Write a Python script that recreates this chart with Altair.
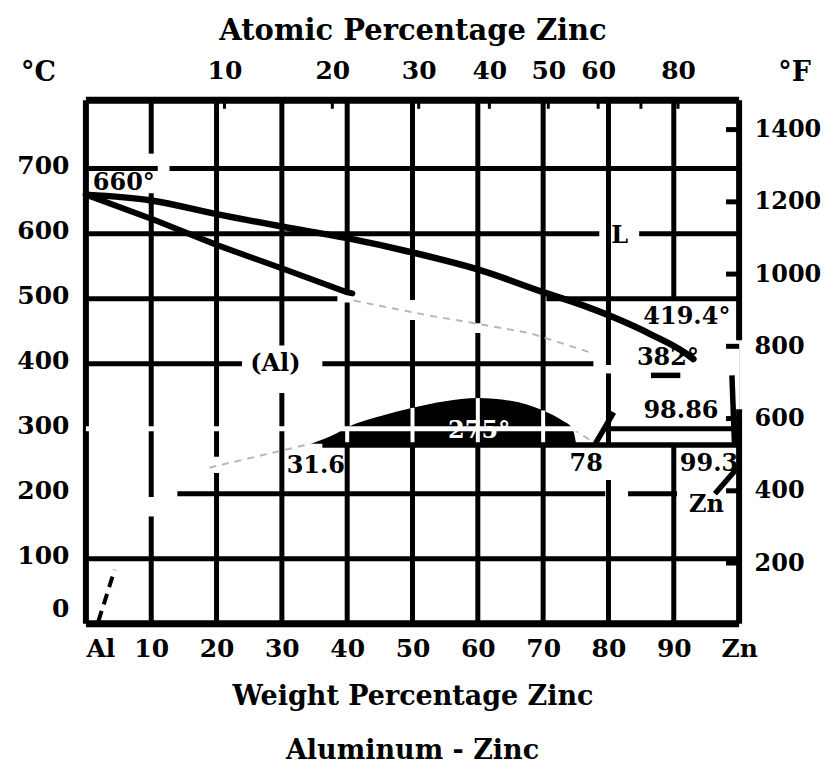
import altair as alt
import pandas as pd

# ---------------- data (x = weight % Zn, y = temperature in deg C) ----------------
T_MAX = 805

liq_wt = [0, 10, 20, 30, 40, 50, 60, 70, 76.0, 80.6, 86.7, 91.8, 93.0]
liq_t = [660, 651, 630, 611, 593, 571, 545, 510, 490, 472, 444, 416, 407]

sol_wt = [0, 10.5, 20.2, 30.7, 39.9, 40.8]
sol_t = [660, 621, 582, 544, 510, 508]

faint_seg = ["sol", "sol", "sol", "sol", "sol", "solv", "solv", "leg", "leg"]
faint_wt = [41.0, 52.0, 63.0, 68.0, 77.0, 18.9, 34.5, 74.5, 78.0]
faint_t = [497, 475, 456, 447, 418, 240, 277, 300, 277]

dome_wt = [34.5, 38.4, 40, 45, 50, 55, 60, 65, 70, 73, 74.5, 75]
dome_t = [277, 293, 302, 319, 332, 342, 347, 343, 328, 312, 300, 280]
dome_base = 277

short_seg = ["alsolv", "alsolv", "znsolv", "znsolv", "pointer", "pointer",
             "eutectic", "eutectic", "eutectoid", "eutectoid"]
short_wt = [78, 80.8, 99.3, 98.9, 96.3, 99.6, 86.5, 91.0, 36.2, 100]
short_t = [277, 325, 275, 382, 200, 238, 382, 382, 275, 275]

corner_wt = [1.9, 4.4]
corner_t = [3.5, 83]

# grid segments (as printed, with the gaps of the original)
vgrid_wt = [10, 10, 10, 20, 20, 30, 30, 40, 40, 50, 50, 60, 60, 70, 80, 80, 80, 90, 90]
vgrid_from = [0, 195, 723, 0, 257, 0, 428, 0, 508, 0, 498, 0, 462, 0, 0, 277, 398, 0, 500]
vgrid_to = [165, 662, 805, 232, 805, 355, 805, 494, 805, 467, 805, 447, 805, 805, 221, 385, 805, 277, 805]

hgrid_t = [100, 200, 200, 300, 400, 400, 500, 500, 600, 600, 700, 700]
hgrid_from = [0, 14, 83, 80, 0, 36.2, 0, 70.5, 0, 84.7, 0, 12.8]
hgrid_to = [100, 79.5, 90.5, 100, 23.9, 77.7, 38.5, 100, 78.6, 100, 11.0, 100]

frame_v_wt = [0, 100, 100]
frame_v_from = [0, 0, 436]
frame_v_to = [805, 330, 805]
frame_h_t = [0, 805]

white_h_t = [300]
white_h_from = [0]
white_h_to = [78]
white_v_wt = [40, 50, 60, 70]

lab_text = ["660°", "L", "(Al)", "419.4°", "382°", "98.86", "31.6", "78", "99.3", "Zn"]
lab_wt = [5.8, 81.7, 29.0, 92.0, 89.1, 91.1, 35.2, 76.6, 95.4, 95.0]
lab_t = [678, 596, 400, 472, 409, 327, 243, 246, 246, 183]
wlab_text = ["275°"]
wlab_wt = [60.2]
wlab_t = [296]

bottom_ticks = [0, 10, 20, 30, 40, 50, 60, 70, 80, 90, 100]
left_ticks = [0, 100, 200, 300, 400, 500, 600, 700]
f_ticks = [200, 400, 600, 800, 1000, 1200, 1400]
atomic_ticks = [10, 20, 30, 40, 50, 60, 70, 80]
atomic_labels = [10, 20, 30, 40, 50, 60, 80]

M_ZN, M_AL = 65.38, 26.98


def at_to_wt(a):
    return 100 * a * M_ZN / (a * M_ZN + (100 - a) * M_AL)


# ---------------- scales / helpers ----------------
XS = alt.Scale(domain=[0, 100], nice=False, zero=False)
YS = alt.Scale(domain=[0, T_MAX], nice=False, zero=False)
FS = alt.Scale(domain=[32, T_MAX * 1.8 + 32], nice=False, zero=False)
FONT = "DejaVu Serif"


def X(f):
    return alt.X(f"{f}:Q", scale=XS, axis=None)


def Y(f):
    return alt.Y(f"{f}:Q", scale=YS, axis=None)


vgrid = pd.DataFrame({"w": vgrid_wt, "t0": vgrid_from, "t1": vgrid_to})
hgrid = pd.DataFrame({"t": hgrid_t, "w0": hgrid_from, "w1": hgrid_to})
framev = pd.DataFrame({"w": frame_v_wt, "t0": frame_v_from, "t1": frame_v_to})
frameh = pd.DataFrame({"t": frame_h_t, "w0": [0, 0], "w1": [100, 100]})

l_vgrid = alt.Chart(vgrid).mark_rule(color="black", strokeWidth=5).encode(
    x=X("w"), y=Y("t0"), y2="t1:Q")
l_hgrid = alt.Chart(hgrid).mark_rule(color="black", strokeWidth=5).encode(
    y=Y("t"), x=X("w0"), x2="w1:Q")
l_framev = alt.Chart(framev).mark_rule(color="black", strokeWidth=6).encode(
    x=X("w"), y=Y("t0"), y2="t1:Q")
l_frameh = alt.Chart(frameh).mark_rule(color="black", strokeWidth=7).encode(
    y=Y("t"), x=X("w0"), x2="w1:Q")

faint = pd.DataFrame({"seg": faint_seg, "w": faint_wt, "t": faint_t})
l_faint = alt.Chart(faint).mark_line(color="#b8b8b8", strokeWidth=2, strokeDash=[7, 6]).encode(
    x=X("w"), y=Y("t"), detail="seg:N")

dome = pd.DataFrame({"w": dome_wt, "t": dome_t, "b": [dome_base] * len(dome_wt)})
l_dome = alt.Chart(dome).mark_area(color="black", interpolate="monotone").encode(
    x=X("w"), y=Y("t"), y2="b:Q")

whv = dome[dome["w"].isin(white_v_wt)]
l_white_v = alt.Chart(whv).mark_rule(color="white", strokeWidth=4).encode(
    x=X("w"), y=Y("b"), y2="t:Q")
whh = pd.DataFrame({"t": white_h_t, "w0": white_h_from, "w1": white_h_to})
l_white_h = alt.Chart(whh).mark_rule(color="white", strokeWidth=5).encode(
    y=Y("t"), x=X("w0"), x2="w1:Q")

liq = pd.DataFrame({"w": liq_wt, "t": liq_t})
l_liq = alt.Chart(liq).mark_line(color="black", strokeWidth=6.5, interpolate="monotone",
                                 strokeCap="round").encode(x=X("w"), y=Y("t"))
sol = pd.DataFrame({"w": sol_wt, "t": sol_t})
l_sol = alt.Chart(sol).mark_line(color="black", strokeWidth=6, strokeCap="round").encode(
    x=X("w"), y=Y("t"))
short = pd.DataFrame({"seg": short_seg, "w": short_wt, "t": short_t})
l_short = alt.Chart(short).mark_line(color="black", strokeWidth=5.5).encode(
    x=X("w"), y=Y("t"), detail="seg:N")
corner = pd.DataFrame({"w": corner_wt, "t": corner_t})
l_corner = alt.Chart(corner).mark_line(color="black", strokeWidth=4, strokeDash=[11, 7]).encode(
    x=X("w"), y=Y("t"))

labs = pd.DataFrame({"label": lab_text, "w": lab_wt, "t": lab_t})
l_labs = alt.Chart(labs).mark_text(font=FONT, fontWeight="bold", fontSize=24, color="black").encode(
    x=X("w"), y=Y("t"), text="label:N")
wlabs = pd.DataFrame({"label": wlab_text, "w": wlab_wt, "t": wlab_t})
l_wlabs = alt.Chart(wlabs).mark_text(font=FONT, fontWeight="bold", fontSize=24, color="white").encode(
    x=X("w"), y=Y("t"), text="label:N")

# ticks drawn inward on top and right frame
top_t = pd.DataFrame({"w": [at_to_wt(a) for a in atomic_ticks]})
l_top_ticks = alt.Chart(top_t).mark_rule(color="black", strokeWidth=3).encode(
    x=X("w"), y=alt.Y(datum=T_MAX, scale=YS, axis=None), y2=alt.datum(T_MAX - 13))
right_t = pd.DataFrame({"F": f_ticks})
l_right_ticks = alt.Chart(right_t).mark_rule(color="black", strokeWidth=5).encode(
    y=alt.Y("F:Q", scale=FS, axis=None), x=alt.X(datum=98.0, scale=XS, axis=None), x2=alt.datum(100))

axis_common = dict(ticks=False, domain=False, grid=False, labelFont=FONT, labelFontWeight="bold",
                   labelColor="black", titleFont=FONT, titleFontWeight="bold",
                   titleColor="black", labelOverlap=False)

ax_bl = alt.Chart(pd.DataFrame({"w": [0, 100], "t": [0, T_MAX]})).mark_point(opacity=0).encode(
    x=alt.X("w:Q", scale=XS, axis=alt.Axis(
        orient="bottom", values=bottom_ticks, labelFlush=False, labelFontSize=25,
        labelExpr="datum.value == 0 ? 'Al' : datum.value == 100 ? 'Zn' : datum.label",
        labelAlign={"condition": {"test": "datum.value == 0", "value": "left"}, "value": "center"},
        labelPadding=13, title="Weight Percentage Zinc", titleFontSize=27, titlePadding=22,
        **axis_common)),
    y=alt.Y("t:Q", scale=YS, axis=alt.Axis(
        orient="left", values=left_ticks, labelPadding=17, labelFontSize=25,
        labelOffset={"condition": {"test": "datum.value == 0", "value": -15}, "value": -3},
        title="°C", titleAngle=0,
        titleFontSize=27, titleX=-48, titleY=-28, titleAlign="center", titleBaseline="middle",
        **axis_common)))

ax_top = alt.Chart(pd.DataFrame({"w": [at_to_wt(a) for a in atomic_labels]})).mark_point(opacity=0).encode(
    x=alt.X("w:Q", scale=XS, axis=alt.Axis(
        orient="top", values=[at_to_wt(a) for a in atomic_labels], labelFlush=False, labelFontSize=25,
        labelExpr="round(100*(datum.value/65.38)/(datum.value/65.38+(100-datum.value)/26.98))",
        labelPadding=17, title="Atomic Percentage Zinc", titleFontSize=29, titlePadding=13,
        **axis_common)),
    y=alt.value(0))

ax_right = alt.Chart(pd.DataFrame({"F": f_ticks})).mark_point(opacity=0).encode(
    y=alt.Y("F:Q", scale=FS, axis=alt.Axis(
        orient="right", values=f_ticks, format="d", labelPadding=15, labelFontSize=24,
        title="°F", titleAngle=0,
        titleFontSize=27, titleX=55, titleY=-28, titleAlign="center", titleBaseline="middle",
        **axis_common)),
    x=alt.value(0))

chart = alt.layer(
    l_vgrid, l_hgrid, l_framev, l_frameh, l_faint, l_dome, l_white_v, l_white_h,
    l_liq, l_sol, l_short, l_corner, l_labs, l_wlabs, l_top_ticks, l_right_ticks,
    ax_bl, ax_top, ax_right
).resolve_scale(x="independent", y="independent").properties(
    width=654, height=524,
    autosize=alt.AutoSizeParams(type="none"),
    padding={"left": 78, "top": 92, "right": 86, "bottom": 146},
    title=alt.Title("Aluminum - Zinc", orient="bottom", font=FONT, fontWeight="bold",
                    fontSize=27, color="black", offset=28, anchor="middle"),
).configure_view(stroke=None).configure(background="white")

chart.save("out.html", embed_options={"renderer": "svg", "actions": False})
